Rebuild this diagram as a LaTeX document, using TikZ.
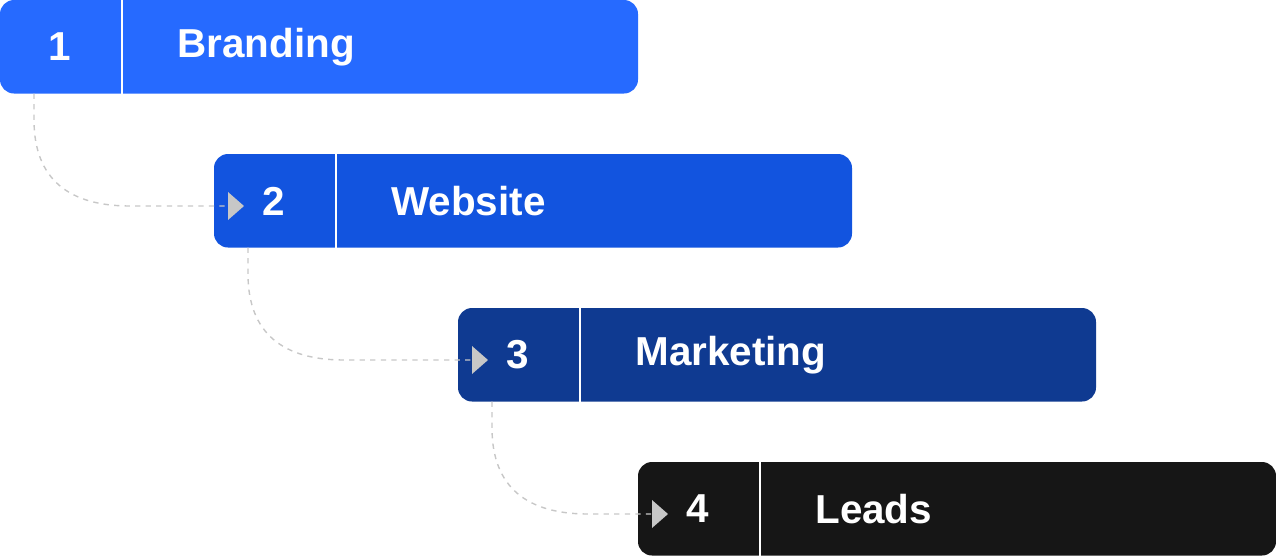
\documentclass[tikz,border=0pt]{standalone}
\usepackage{fontspec}
\setmainfont{Liberation Sans}
\begin{document}
\begin{tikzpicture}[x=0.02cm,y=-0.02cm,
  bar/.style={rounded corners=0.28cm},
  lbl/.style={text=white,font=\bfseries\fontsize{23}{26}\selectfont,inner sep=0pt},
  conn/.style={draw=black!22,dashed,line width=0.8pt},
  tip/.style={fill=black!22,draw=none}]
\useasboundingbox (0,0) rectangle (1276,556);
\definecolor{c1}{HTML}{266AFF}
\definecolor{c2}{HTML}{1254DF}
\definecolor{c3}{HTML}{0F3A91}
\definecolor{c4}{HTML}{161616}
\foreach \i/\x/\y/\c/\t in {1/0/0/c1/Branding,2/214/154/c2/Website,3/458/308/c3/Marketing,4/638/462/c4/Leads}{
  \fill[bar,\c] (\x,\y) rectangle ++(638,93.5);
  \draw[white,line width=1.2pt] (\x+122,\y) -- (\x+122,\y+93.5);
  \node[lbl] (n\i) at (\x+60,\y+47) {\i};
  \node[lbl,anchor=west] (t\i) at (\x+177,\y+47) {\t};
}
\foreach \a/\b/\y in {0/214/0,214/458/154,458/638/308}{
  \coordinate (s) at (\a+34,\y+93.5);
  \coordinate (e) at (\b+14,\y+206);
  \draw[conn] (s) -- (\a+34,\y+120) .. controls (\a+34,\y+180) and (\a+70,\y+206) .. (\a+130,\y+206) -- (e);
  \fill[tip] (\b+14,\y+192) -- (\b+30,\y+206) -- (\b+14,\y+220) -- cycle;
}
\end{tikzpicture}
\end{document}
